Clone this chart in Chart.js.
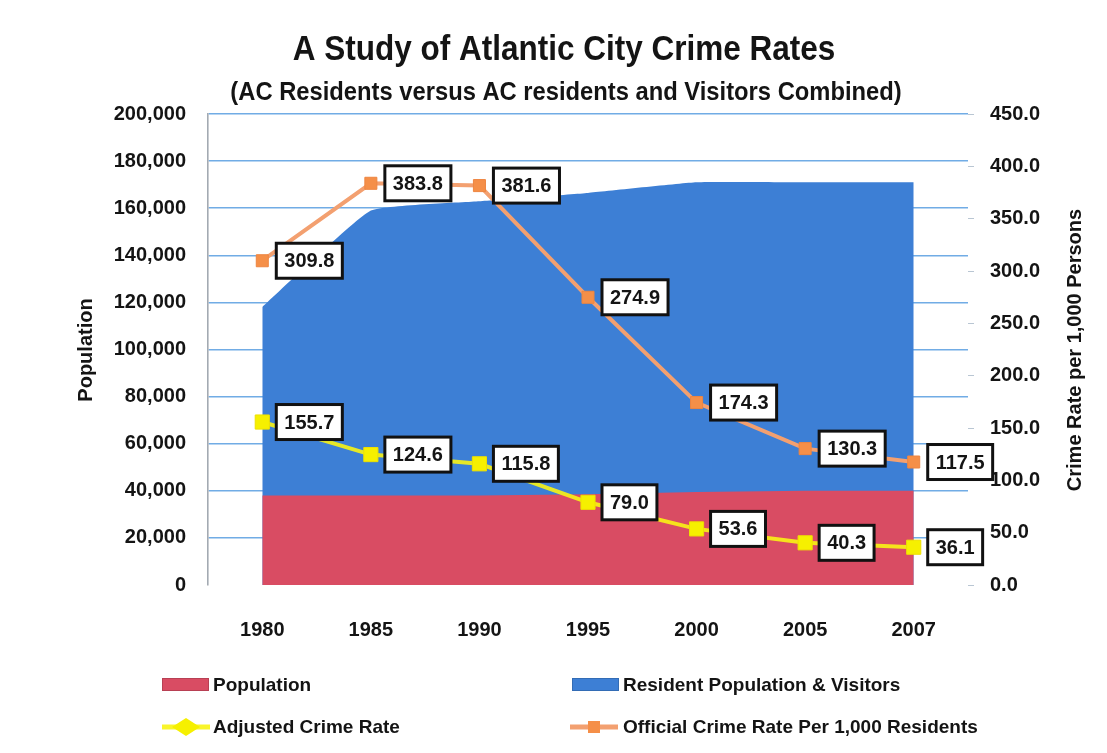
<!DOCTYPE html>
<html>
<head>
<meta charset="utf-8">
<title>Atlantic City Crime Rates</title>
<script src="https://cdn.jsdelivr.net/npm/chart.js@4.4.1/dist/chart.umd.min.js"></script>
<style>
  html, body { margin: 0; padding: 0; background: #ffffff; }
  #wrap { width: 1107px; height: 753px; position: relative; }
  canvas { display: block; }
</style>
</head>
<body>
<div id="wrap"><canvas id="chart" width="1107" height="753"></canvas></div>
<script>
// ---- data ----
const years = ['1980', '1985', '1990', '1995', '2000', '2005', '2007'];
const residentPopulation = [38000, 38000, 38000, 38500, 39500, 40000, 40000];
const residentsAndVisitors = [118000, 159000, 163000, 166500, 171000, 171000, 171000];
const adjustedCrimeRate = [155.7, 124.6, 115.8, 79.0, 53.6, 40.3, 36.1];
const officialCrimeRate = [309.8, 383.8, 381.6, 274.9, 174.3, 130.3, 117.5];

const seriesNames = ['Population', 'Resident Population & Visitors', 'Adjusted Crime Rate', 'Official Crime Rate Per 1,000 Residents'];
const titleText = 'A Study of Atlantic City Crime Rates';
const subtitleText = '(AC Residents versus AC residents and Visitors Combined)';
const leftAxisTitle = 'Population';
const rightAxisTitle = 'Crime Rate per 1,000 Persons';

const FONT = '"Liberation Sans", Arial, Helvetica, sans-serif';
const INK = '#141414';

// ---- colours ----
const RED = '#d94c63';
const BLUE = '#3d7fd5';
const YELLOW = 'rgba(248, 244, 20, 0.9)';
const ORANGE = '#f3a070';
const ORANGE_MARK = '#f58f48';

// ---- plot frame ----
const FRAME = { left: 208, right: 968, top: 114, bottom: 585 };

// draws text squeezed horizontally (tall, condensed look)
function condensedText(ctx, text, x, y, sx) {
  ctx.save();
  ctx.translate(x, y);
  ctx.scale(sx, 1);
  ctx.fillText(text, 0, 0);
  ctx.restore();
}

// Title, subtitle and rotated axis titles
const headerPlugin = {
  id: 'header',
  afterDraw(chart) {
    const ctx = chart.ctx;
    ctx.save();
    ctx.fillStyle = INK;
    ctx.textAlign = 'center';
    ctx.textBaseline = 'middle';
    ctx.font = 'bold 35px ' + FONT;
    condensedText(ctx, titleText, 564, 50, 0.9);
    ctx.font = 'bold 25px ' + FONT;
    condensedText(ctx, subtitleText, 566, 93, 0.95);

    ctx.font = 'bold 20px ' + FONT;
    ctx.translate(86, 350);
    ctx.rotate(-Math.PI / 2);
    ctx.fillText(leftAxisTitle, 0, 0);
    ctx.restore();

    ctx.save();
    ctx.fillStyle = INK;
    ctx.textAlign = 'center';
    ctx.textBaseline = 'middle';
    ctx.font = 'bold 20px ' + FONT;
    ctx.translate(1075, 350);
    ctx.rotate(-Math.PI / 2);
    ctx.fillText(rightAxisTitle, 0, 0);
    ctx.restore();
  }
};

// Boxed value labels beside the crime-rate points
const valueBoxPlugin = {
  id: 'valueBoxes',
  afterDatasetsDraw(chart) {
    const ctx = chart.ctx;
    ctx.save();
    ctx.font = 'bold 20px ' + FONT;
    ctx.textAlign = 'center';
    ctx.textBaseline = 'middle';
    chart.data.datasets.forEach((ds, di) => {
      if (!ds.boxedLabels) return;
      const meta = chart.getDatasetMeta(di);
      meta.data.forEach((pt, i) => {
        const txt = ds.data[i].toFixed(1);
        const w = ctx.measureText(txt).width + 16;
        const h = 35;
        const x = pt.x + 14;
        const y = pt.y - h / 2;
        ctx.fillStyle = '#ffffff';
        ctx.fillRect(x, y, w, h);
        ctx.lineWidth = 3;
        ctx.strokeStyle = '#111111';
        ctx.strokeRect(x, y, w, h);
        ctx.fillStyle = INK;
        ctx.fillText(txt, x + w / 2, pt.y + 1);
      });
    });
    ctx.restore();
  }
};

// Two-column legend under the plot
const legendPlugin = {
  id: 'gridLegend',
  afterDraw(chart) {
    const ctx = chart.ctx;
    const ds = chart.data.datasets;
    const byName = n => ds.find(d => d.label === n);
    ctx.save();
    ctx.font = 'bold 19px ' + FONT;
    ctx.textBaseline = 'middle';
    ctx.textAlign = 'left';

    const cells = [
      { name: seriesNames[0], kind: 'box', sx: 162, tx: 213, y: 685 },
      { name: seriesNames[1], kind: 'box', sx: 572, tx: 623, y: 685 },
      { name: seriesNames[2], kind: 'line', sx: 162, tx: 213, y: 727 },
      { name: seriesNames[3], kind: 'line', sx: 570, tx: 623, y: 727 }
    ];
    cells.forEach(c => {
      const d = byName(c.name);
      if (c.kind === 'box') {
        ctx.fillStyle = d.backgroundColor;
        ctx.fillRect(c.sx, c.y - 7, 47, 13);
        ctx.lineWidth = 1;
        ctx.strokeStyle = 'rgba(0,0,0,0.15)';
        ctx.strokeRect(c.sx + 0.5, c.y - 6.5, 46, 12);
      } else {
        ctx.strokeStyle = d.borderColor;
        ctx.lineWidth = 5;
        ctx.beginPath();
        ctx.moveTo(c.sx, c.y);
        ctx.lineTo(c.sx + 48, c.y);
        ctx.stroke();
        ctx.fillStyle = d.pointBackgroundColor;
        ctx.beginPath();
        if (d.legendPointStyle === 'rectRot') {
          ctx.moveTo(c.sx + 10, c.y);
          ctx.lineTo(c.sx + 24, c.y - 9);
          ctx.lineTo(c.sx + 38, c.y);
          ctx.lineTo(c.sx + 24, c.y + 9);
          ctx.closePath();
        } else {
          ctx.rect(c.sx + 18, c.y - 6, 12, 12);
        }
        ctx.fill();
      }
      ctx.fillStyle = INK;
      ctx.fillText(c.name, c.tx, c.y + 1);
    });
    ctx.restore();
  }
};

const ctx = document.getElementById('chart').getContext('2d');
new Chart(ctx, {
  type: 'line',
  data: {
    labels: years,
    datasets: [
      {
        label: seriesNames[0],
        data: residentPopulation,
        yAxisID: 'yPop',
        backgroundColor: RED,
        borderColor: RED,
        borderWidth: 0,
        pointRadius: 0,
        fill: 'origin',
        tension: 0,
        order: 2
      },
      {
        label: seriesNames[1],
        data: residentsAndVisitors,
        yAxisID: 'yPop',
        backgroundColor: BLUE,
        borderColor: BLUE,
        borderWidth: 0,
        pointRadius: 0,
        fill: 'origin',
        tension: 0.12,
        order: 3
      },
      {
        label: seriesNames[2],
        data: adjustedCrimeRate,
        yAxisID: 'yRate',
        borderColor: YELLOW,
        borderWidth: 4,
        pointStyle: 'rect',
        pointRadius: 10,
        pointBackgroundColor: '#f6f000',
        pointBorderColor: '#eee000',
        pointBorderWidth: 1,
        legendPointStyle: 'rectRot',
        fill: false,
        tension: 0,
        boxedLabels: true,
        order: 1
      },
      {
        label: seriesNames[3],
        data: officialCrimeRate,
        yAxisID: 'yRate',
        borderColor: ORANGE,
        borderWidth: 4,
        pointStyle: 'rect',
        pointRadius: 8.5,
        pointBackgroundColor: ORANGE_MARK,
        pointBorderColor: '#ee8540',
        pointBorderWidth: 1,
        legendPointStyle: 'rect',
        fill: false,
        tension: 0,
        boxedLabels: true,
        order: 0
      }
    ]
  },
  options: {
    responsive: false,
    devicePixelRatio: 1,
    animation: false,
    events: [],
    layout: { padding: { top: FRAME.top, bottom: 753 - FRAME.bottom - 60, left: 0, right: 0 } },
    plugins: {
      legend: { display: false },
      tooltip: { enabled: false },
      title: { display: false }
    },
    scales: {
      x: {
        type: 'category',
        offset: true,
        grid: { display: false },
        border: { display: false },
        ticks: { color: INK, font: { family: FONT, size: 20, weight: 'bold' }, padding: 25, maxRotation: 0 },
        afterFit(scale) { scale.height = 60; }
      },
      yPop: {
        position: 'left',
        min: 0,
        max: 200000,
        grid: {
          color: c => (c.tick && c.tick.value === 0 ? 'rgba(0,0,0,0)' : 'rgba(88, 158, 224, 0.85)'),
          lineWidth: 1.6,
          drawTicks: false
        },
        border: { display: true, color: '#a3aab2', width: 1.6 },
        ticks: {
          stepSize: 20000,
          color: INK,
          padding: 22,
          font: { family: FONT, size: 20, weight: 'bold' },
          callback: v => Number(v).toLocaleString('en-US')
        },
        afterFit(scale) { scale.width = FRAME.left; }
      },
      yRate: {
        position: 'right',
        min: 0,
        max: 450,
        grid: { drawOnChartArea: false, drawTicks: true, tickLength: 6, color: '#b9c6d3' },
        border: { display: false },
        ticks: {
          stepSize: 50,
          color: INK,
          padding: 16,
          font: { family: FONT, size: 20, weight: 'bold' },
          callback: v => Number(v).toFixed(1)
        },
        afterFit(scale) { scale.width = 1107 - FRAME.right; }
      }
    }
  },
  plugins: [headerPlugin, valueBoxPlugin, legendPlugin]
});
</script>
</body>
</html>
